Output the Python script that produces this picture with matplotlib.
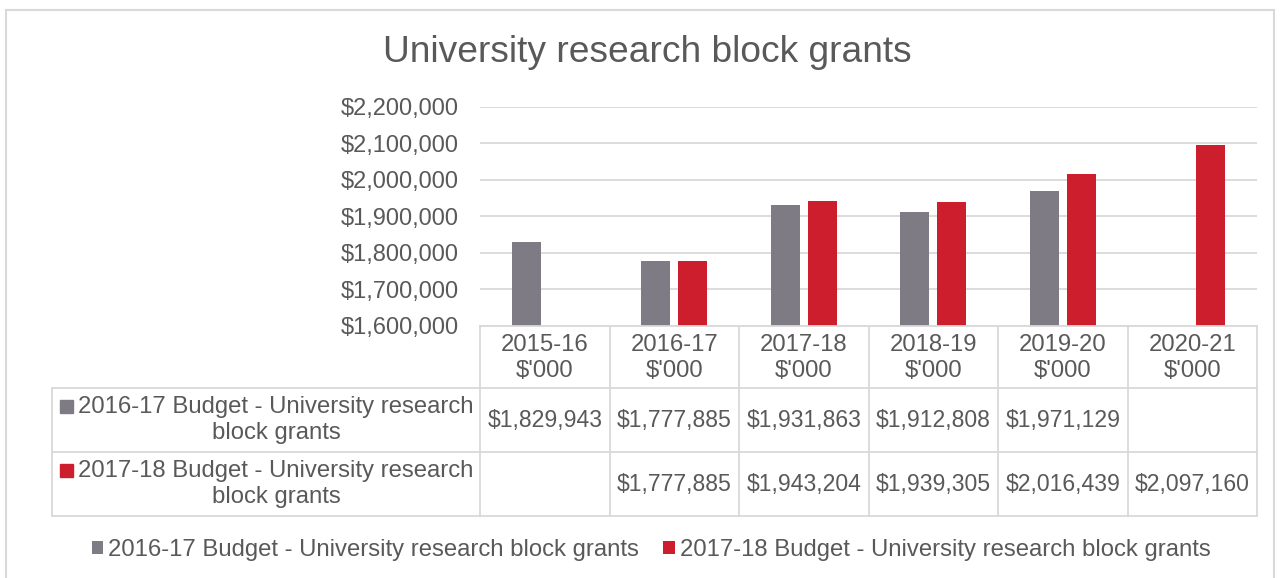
import matplotlib.pyplot as plt
from matplotlib.patches import Rectangle
import numpy as np

plt.rcParams['font.family'] = ['Liberation Sans', 'DejaVu Sans']

categories = ['2015-16', '2016-17', '2017-18', '2018-19', '2019-20', '2020-21']
budget_1617 = [1829943, 1777885, 1931863, 1912808, 1971129, None]
budget_1718 = [None, 1777885, 1943204, 1939305, 2016439, 2097160]
series_names = ['2016-17 Budget - University research block grants',
                '2017-18 Budget - University research block grants']
yticks = [1600000, 1700000, 1800000, 1900000, 2000000, 2100000, 2200000]

GRAY = '#7e7b85'
RED = '#cc1e2d'
TXT = '#595959'
LINE = '#d9d9d9'
FS_TICK = 17
FS_VAL = 16.6
FS_LAB = 17.2

W, H = 1281, 578
fig = plt.figure(figsize=(W / 100, H / 100), dpi=100)


def fx(px):
    return px / W


def fy(py):
    return 1 - py / H


# plot area in pixels
x0, x1 = 480, 1257
ytop, ybot = 107, 326
ax = fig.add_axes([fx(x0), fy(ybot), fx(x1 - x0), (ybot - ytop) / H])

x = np.arange(len(categories))
g = np.array([v if v is not None else np.nan for v in budget_1617], dtype=float)
r = np.array([v if v is not None else np.nan for v in budget_1718], dtype=float)
bw = 0.224
off = 0.143
b1 = ax.bar(x - off, g, bw, color=GRAY, label=series_names[0], zorder=3)
b2 = ax.bar(x + off, r, bw, color=RED, label=series_names[1], zorder=3)

ax.set_xlim(-0.5, len(categories) - 0.5)
ax.set_ylim(yticks[0], yticks[-1])
ax.set_yticks(yticks)
ax.set_yticklabels(['${:,.0f}'.format(v) for v in yticks], fontsize=FS_TICK, color=TXT)
ax.tick_params(axis='y', length=0, pad=15)
ax.set_xticks([])
ax.grid(axis='y', color=LINE, lw=1.3, zorder=0)
for s in ax.spines.values():
    s.set_visible(False)

# title
fig.text(fx(647), fy(53), 'University research block grants', fontsize=26.7,
         color=TXT, ha='center', va='center')

# outer chart border
for xs, ys in [([6, 6], [10, 578]), ([6, 1274], [10, 10]), ([1274, 1274], [10, 578])]:
    fig.add_artist(plt.Line2D([fx(v) for v in xs], [fy(v) for v in ys], color=LINE, lw=1.5))

# data table
cw = (x1 - x0) / len(categories)
col_edges = [x0 + i * cw for i in range(len(categories) + 1)]
row_edges = [326, 388, 452, 516]
lx = 52


def hline(xa, xb, yp):
    fig.add_artist(plt.Line2D([fx(xa), fx(xb)], [fy(yp), fy(yp)], color=LINE, lw=1.3))


def vline(xp, ya, yb):
    fig.add_artist(plt.Line2D([fx(xp), fx(xp)], [fy(ya), fy(yb)], color=LINE, lw=1.3))


hline(x0, x1, row_edges[0])
for yp in row_edges[1:]:
    hline(lx, x1, yp)
for xp in col_edges:
    vline(xp, row_edges[0], row_edges[-1])
vline(lx, row_edges[1], row_edges[-1])

for i, c in enumerate(categories):
    cx = col_edges[i] + cw / 2
    fig.text(fx(cx), fy(358), c + "\n$'000", fontsize=FS_LAB, color=TXT,
             ha='center', va='center', multialignment='center', linespacing=1.27)

for ri, (vals, col, name) in enumerate([(budget_1617, GRAY, series_names[0]),
                                         (budget_1718, RED, series_names[1])]):
    yc = (row_edges[ri + 1] + row_edges[ri + 2]) / 2
    fig.text(fx(276), fy(yc), name.replace('research ', 'research\n'), fontsize=FS_LAB,
             color=TXT, ha='center', va='center', multialignment='center', linespacing=1.27)
    fig.add_artist(Rectangle((fx(60), fy(yc - 7)), fx(13), 13 / H, color=col,
                             transform=fig.transFigure))
    for i, v in enumerate(vals):
        if v is None:
            continue
        cx = col_edges[i] + cw / 2
        fig.text(fx(cx), fy(yc), '${:,.0f}'.format(v), fontsize=FS_VAL, color=TXT,
                 ha='center', va='center')

# legend
fig.legend(handles=[b1, b2], labels=series_names, loc='center',
           bbox_to_anchor=(fx(651), fy(550)), ncol=2, frameon=False,
           fontsize=FS_LAB, labelcolor=TXT, handlelength=0.5, handleheight=0.5,
           handletextpad=0.2, columnspacing=1.0)

fig.savefig('out.png', dpi=100)
